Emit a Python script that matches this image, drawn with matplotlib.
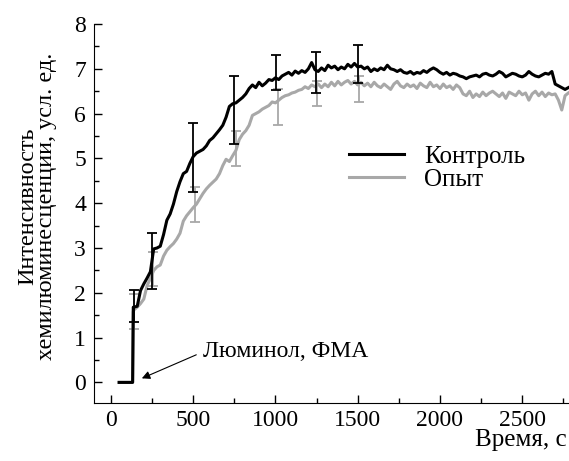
import numpy as np
import matplotlib
matplotlib.use("Agg")
import matplotlib.pyplot as plt
from matplotlib.ticker import MultipleLocator

plt.rcParams['font.family'] = ['Liberation Serif', 'DejaVu Serif']

# time grid, s
t = [50, 90, 132, 136] + list(range(140, 2781, 20))

# Контроль (black)
control = [0, 0, 0, 1.68,
    1.68, 1.70, 2.05, 2.20, 2.33, 2.47, 2.98, 3.00, 3.04, 3.30,
    3.62, 3.76, 3.98, 4.26, 4.48, 4.66, 4.71, 4.89, 5.04, 5.12,
    5.16, 5.20, 5.28, 5.40, 5.46, 5.55, 5.64, 5.74, 5.92, 6.16,
    6.22, 6.24, 6.30, 6.36, 6.44, 6.56, 6.64, 6.58, 6.70, 6.62,
    6.68, 6.76, 6.74, 6.80, 6.76, 6.84, 6.88, 6.92, 6.86, 6.95,
    6.90, 6.96, 6.92, 7.00, 7.14, 6.98, 6.94, 7.02, 6.96, 7.08,
    7.02, 7.06, 6.98, 7.04, 7.00, 7.10, 7.04, 7.12, 7.04, 7.06,
    7.00, 7.04, 6.94, 7.00, 6.96, 7.02, 6.98, 7.08, 7.00, 6.98,
    6.94, 6.98, 6.92, 6.90, 6.94, 6.88, 6.92, 6.90, 6.96, 6.92,
    6.98, 7.02, 6.98, 6.92, 6.88, 6.92, 6.86, 6.90, 6.88, 6.84,
    6.82, 6.78, 6.82, 6.84, 6.86, 6.82, 6.88, 6.90, 6.86, 6.84,
    6.88, 6.94, 6.90, 6.82, 6.86, 6.90, 6.88, 6.84, 6.82, 6.86,
    6.94, 6.88, 6.84, 6.82, 6.86, 6.90, 6.88, 6.94, 6.66, 6.62,
    6.58, 6.54, 6.58]

# Опыт (gray)
experiment = [0, 0, 0, 1.58,
    1.62, 1.68, 1.76, 1.86, 2.16, 2.32, 2.50, 2.58, 2.62, 2.82,
    2.95, 3.03, 3.10, 3.20, 3.33, 3.60, 3.72, 3.81, 3.90, 3.98,
    4.10, 4.22, 4.32, 4.40, 4.47, 4.54, 4.66, 4.84, 4.98, 4.93,
    5.06, 5.18, 5.42, 5.54, 5.62, 5.74, 5.96, 6.00, 6.04, 6.10,
    6.14, 6.18, 6.26, 6.24, 6.30, 6.36, 6.40, 6.42, 6.46, 6.48,
    6.52, 6.54, 6.60, 6.56, 6.64, 6.60, 6.66, 6.58, 6.66, 6.60,
    6.70, 6.62, 6.72, 6.64, 6.70, 6.74, 6.66, 6.72, 6.64, 6.70,
    6.62, 6.68, 6.60, 6.70, 6.62, 6.58, 6.66, 6.60, 6.54, 6.66,
    6.72, 6.62, 6.58, 6.66, 6.60, 6.64, 6.56, 6.68, 6.62, 6.58,
    6.70, 6.60, 6.64, 6.56, 6.66, 6.58, 6.62, 6.54, 6.64, 6.58,
    6.44, 6.40, 6.50, 6.36, 6.44, 6.38, 6.48, 6.40, 6.46, 6.50,
    6.44, 6.38, 6.46, 6.34, 6.48, 6.44, 6.40, 6.50, 6.42, 6.46,
    6.30, 6.44, 6.50, 6.40, 6.48, 6.38, 6.46, 6.42, 6.44, 6.30,
    6.08, 6.40, 6.46]

# error bars
ctrl_err_t = [138, 247, 500, 748, 1003, 1244, 1500]
ctrl_err_v = [1.70, 2.71, 5.03, 6.08, 6.92, 6.92, 7.11]
ctrl_err_e = [0.36, 0.63, 0.77, 0.76, 0.39, 0.45, 0.42]
exp_err_t = [140, 257, 510, 762, 1013, 1250, 1510]
exp_err_v = [1.59, 2.54, 3.97, 5.23, 6.15, 6.44, 6.56]
exp_err_e = [0.39, 0.38, 0.40, 0.39, 0.40, 0.28, 0.29]

black = '#000000'
gray = '#a8a8a8'

fig = plt.figure(figsize=(5.69, 4.61), dpi=100)
ax = fig.add_axes([0.1657, 0.1258, 0.8343, 0.8221])

ax.plot(t, experiment, color=gray, lw=2.2, label='Опыт', zorder=2)
ax.plot(t, control, color=black, lw=2.2, label='Контроль', zorder=3)
ax.errorbar(exp_err_t, exp_err_v, yerr=exp_err_e, fmt='none', ecolor=gray,
            elinewidth=1.3, capsize=3.3, capthick=1.3, zorder=2)
ax.errorbar(ctrl_err_t, ctrl_err_v, yerr=ctrl_err_e, fmt='none', ecolor=black,
            elinewidth=1.3, capsize=3.3, capthick=1.3, zorder=3)

ax.set_xlim(-101, 2784)
ax.set_ylim(-0.46, 8)
ax.xaxis.set_major_locator(MultipleLocator(500))
ax.xaxis.set_minor_locator(MultipleLocator(250))
ax.yaxis.set_major_locator(MultipleLocator(1))
ax.yaxis.set_minor_locator(MultipleLocator(0.5))
ax.tick_params(which='both', direction='in', labelsize=17, width=1)
ax.tick_params(which='major', length=6)
ax.tick_params(which='minor', length=3.5)
ax.tick_params(axis='y', pad=6)
ax.tick_params(axis='x', pad=5)
for side in ['top', 'right']:
    ax.spines[side].set_visible(False)

h, l = ax.get_legend_handles_labels()
ax.legend(h[::-1], l[::-1], loc='center left', bbox_to_anchor=(0.537, 0.62),
          frameon=False, fontsize=18, handlelength=2.2, handletextpad=0.8,
          labelspacing=0.0, borderpad=0, borderaxespad=0)

ax.annotate('Люминол, ФМА', xy=(188, 0.09), xytext=(559, 0.68),
            fontsize=17, va='center', ha='left',
            arrowprops=dict(arrowstyle='-|>', color='black', lw=0.8,
                            mutation_scale=12, shrinkA=3, shrinkB=0,
                            relpos=(0, 0.5)))

fig.text(0.066, 0.553, 'Интенсивность\nхемилюминесценции, усл. ед.',
         rotation=90, ha='center', va='center', fontsize=17.5,
         multialignment='center', linespacing=0.85)
fig.text(0.995, 0.045, 'Время, с', ha='right', va='center', fontsize=18)

fig.savefig('out.png', dpi=100)
